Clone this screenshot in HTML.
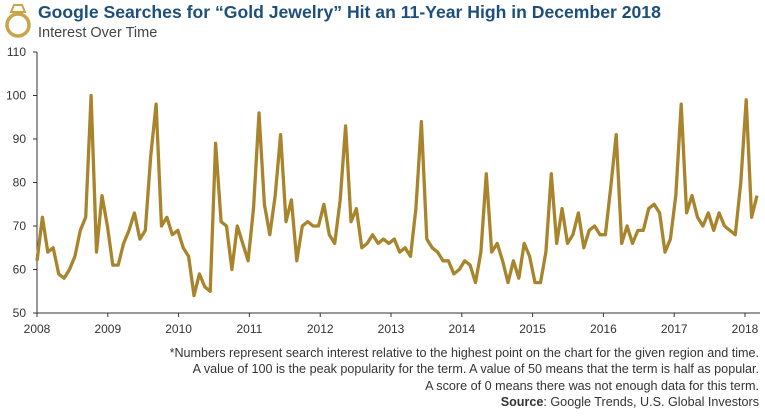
<!DOCTYPE html>
<html><head><meta charset="utf-8"><style>
body{margin:0;background:#fff;width:765px;height:411px;overflow:hidden;font-family:"Liberation Sans",sans-serif}
</style></head><body>
<svg width="765" height="411" viewBox="0 0 765 411" xmlns="http://www.w3.org/2000/svg">
<g>
<circle cx="18" cy="25" r="11" fill="none" stroke="#c9a44a" stroke-width="3.5"/>
<path d="M11 12 L14 5 L22 5 L25 12 Z" fill="none" stroke="#c9a44a" stroke-width="2"/>
</g>
<text x="38" y="18" font-size="17.6" font-weight="bold" fill="#1d4f7c">Google Searches for “Gold Jewelry” Hit an 11-Year High in December 2018</text>
<text x="38" y="37" font-size="14.5" fill="#444">Interest Over Time</text>
<g id="yaxis"></g>
<g id="xaxis"></g>
<polyline id="series" fill="none" stroke="#a8842c" stroke-width="3.3" stroke-linejoin="round"/>
<g font-size="12.6" fill="#333" text-anchor="end">
<text x="759" y="357">*Numbers represent search interest relative to the highest point on the chart for the given region and time.</text>
<text x="759" y="373">A value of 100 is the peak popularity for the term. A value of 50 means that the term is half as popular.</text>
<text x="759" y="390">A score of 0 means there was not enough data for this term.</text>
<text x="759" y="406"><tspan font-weight="bold">Source</tspan>: Google Trends, U.S. Global Investors</text>
</g>
</svg>
<script>
const yTicks=[50,60,70,80,90,100,110];
const xTickLabels=["2008","2009","2010","2011","2012","2013","2014","2015","2016","2017","2018"];
const values=[62,72,64,65,59,58,60,63,69,72,100,64,77,70,61,61,66,69,73,67,69,86,98,70,72,68,69,65,63,54,59,56,55,89,71,70,60,70,66,62,74,96,75,68,77,91,71,76,62,70,71,70,70,75,68,66,76,93,71,74,65,66,68,66,67,66,67,64,65,63,74,94,67,65,64,62,62,59,60,62,61,57,64,82,64,66,62,57,62,58,66,63,57,57,64,82,66,74,66,68,73,65,69,70,68,68,79,91,66,70,66,69,69,74,75,73,64,67,77,98,73,77,72,70,73,69,73,70,69,68,80,99,72,77];
const NS="http://www.w3.org/2000/svg";
const X0=37,X1=757,Y0=313,Y1=52;
function y(v){return Y0-(v-50)/(110-50)*(Y0-Y1);}
function xi(i){return X0+i*(X1-X0)/(values.length-1);}
function xYear(k){return 37+k*70.8;}
const ya=document.getElementById('yaxis');
let l=document.createElementNS(NS,'line');
l.setAttribute('x1',X0);l.setAttribute('x2',X0);l.setAttribute('y1',Y1);l.setAttribute('y2',Y0);l.setAttribute('stroke','#333');


ya.appendChild(l);
yTicks.forEach(t=>{
 const tk=document.createElementNS(NS,'line');
 tk.setAttribute('x1',X0-4);tk.setAttribute('x2',X0);tk.setAttribute('y1',y(t));tk.setAttribute('y2',y(t));tk.setAttribute('stroke','#333');
 
 
 ya.appendChild(tk);
 const tx=document.createElementNS(NS,'text');
 tx.setAttribute('x',26);tx.setAttribute('y',y(t)+4);tx.setAttribute('font-size','12');tx.setAttribute('fill','#333');tx.setAttribute('text-anchor','end');
 tx.textContent=t;
 
 
 ya.appendChild(tx);
});
const xa=document.getElementById('xaxis');
l=document.createElementNS(NS,'line');
l.setAttribute('x1',X0);l.setAttribute('x2',760);l.setAttribute('y1',Y0);l.setAttribute('y2',Y0);l.setAttribute('stroke','#333');


xa.appendChild(l);
xTickLabels.forEach((s,k)=>{
 const tk=document.createElementNS(NS,'line');
 tk.setAttribute('x1',xYear(k));tk.setAttribute('x2',xYear(k));tk.setAttribute('y1',Y0);tk.setAttribute('y2',Y0+4);tk.setAttribute('stroke','#333');
 
 
 xa.appendChild(tk);
 const tx=document.createElementNS(NS,'text');
 tx.setAttribute('x',xYear(k));tx.setAttribute('y',333);tx.setAttribute('font-size','12');tx.setAttribute('fill','#333');tx.setAttribute('text-anchor','middle');
 tx.textContent=s;
 
 
 xa.appendChild(tx);
});
document.getElementById('series').setAttribute('points',values.map((v,i)=>xi(i).toFixed(1)+','+y(v).toFixed(1)).join(' '));
</script>
</body></html>
